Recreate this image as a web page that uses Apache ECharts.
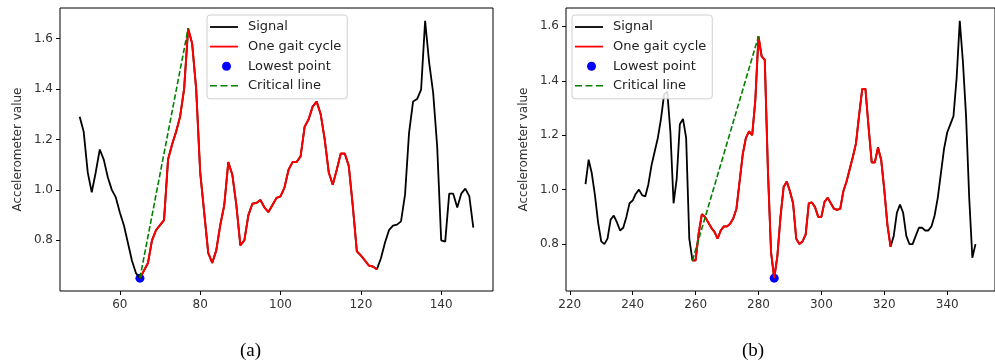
<!DOCTYPE html>
<html><head><meta charset="utf-8">
<script src="https://cdn.jsdelivr.net/npm/echarts@6/dist/echarts.min.js"></script>
<style>html,body{margin:0;padding:0;background:#fff}#c{width:995px;height:362px}</style>
</head><body><div id="c"></div>
<script>
// ---------- data (a) ----------
const leftStart = 50;
const leftSignal = [
  1.29, 1.23, 1.07, 0.99, 1.07, 1.16, 1.12, 1.05, 1.00, 0.97,   // 50-59
  0.91, 0.86, 0.79, 0.72, 0.67, 0.65, 0.68, 0.71, 0.80, 0.84,   // 60-69
  0.86, 0.88, 1.12, 1.18, 1.23, 1.29, 1.40, 1.64, 1.58, 1.40,   // 70-79
  1.07, 0.91, 0.75, 0.71, 0.76, 0.86, 0.94, 1.11, 1.06, 0.94,   // 80-89
  0.78, 0.80, 0.90, 0.945, 0.948, 0.96, 0.93, 0.912, 0.94, 0.968, // 90-99
  0.974, 1.01, 1.08, 1.11, 1.11, 1.133, 1.25, 1.28, 1.33, 1.35, // 100-109
  1.30, 1.20, 1.07, 1.02, 1.08, 1.144, 1.144, 1.094, 0.935, 0.756, // 110-119
  0.74, 0.72, 0.70, 0.696, 0.685, 0.729, 0.79, 0.84, 0.858, 0.862, // 120-129
  0.875, 0.981, 1.226, 1.35, 1.36, 1.397, 1.67, 1.505, 1.385, 1.173, // 130-139
  0.80, 0.795, 0.985, 0.985, 0.93, 0.985, 1.005, 0.975, 0.85      // 140-148
];
const leftCycle = [65, 124];      // x range of one gait cycle
const leftLowestX = 65;           // lowest point
const leftCriticalX = [65, 77];   // critical line endpoints

// ---------- data (b) ----------
const rightStart = 225;
const rightSignal = [
  1.02, 1.11, 1.06, 0.98, 0.88,                               // 225-229
  0.81, 0.80, 0.82, 0.89, 0.905, 0.88, 0.85, 0.86, 0.90, 0.95,  // 230-239
  0.96, 0.985, 1.00, 0.98, 0.975, 1.02, 1.09, 1.14, 1.19, 1.26, // 240-249
  1.35, 1.36, 1.21, 0.95, 1.04, 1.24, 1.26, 1.19, 0.82, 0.74,   // 250-259
  0.74, 0.84, 0.91, 0.90, 0.88, 0.86, 0.845, 0.82, 0.85, 0.865, // 260-269
  0.865, 0.875, 0.895, 0.93, 1.03, 1.13, 1.19, 1.214, 1.20, 1.33, // 270-279
  1.563, 1.49, 1.477, 1.07, 0.77, 0.675, 0.755, 0.90, 1.01, 1.03, // 280-289
  0.994, 0.95, 0.82, 0.80, 0.81, 0.835, 0.95, 0.953, 0.935, 0.90, // 290-299
  0.90, 0.955, 0.97, 0.95, 0.93, 0.926, 0.93, 0.995, 1.03, 1.075, // 300-309
  1.12, 1.17, 1.275, 1.37, 1.37, 1.23, 1.10, 1.10, 1.155, 1.11, // 310-319
  1.00, 0.87, 0.79, 0.83, 0.915, 0.945, 0.915, 0.83, 0.80, 0.80, // 320-329
  0.83, 0.86, 0.86, 0.85, 0.85, 0.865, 0.905, 0.97, 1.06, 1.15, // 330-339
  1.21, 1.24, 1.27, 1.41, 1.62, 1.47, 1.27, 0.97, 0.75, 0.80    // 340-349
];
const rightCycle = [259, 322];
const rightLowestX = 285;
const rightCriticalX = [259, 280];

// ---------- ticks / labels ----------
const xTicksLeft = [60, 80, 100, 120, 140];
const xTicksRight = [220, 240, 260, 280, 300, 320, 340];
const yTicks = [0.8, 1.0, 1.2, 1.4, 1.6];
const legendNames = ['Signal', 'One gait cycle', 'Lowest point', 'Critical line'];
const yName = 'Accelerometer value';
const captions = ['(a)', '(b)'];

// ---------- build ----------
function pairs(start, vals, from, to) {
  const out = [];
  vals.forEach((v, i) => { const x = start + i; if (x >= from && x <= to) out.push([x, v]); });
  return out;
}
function at(start, vals, x) { return [x, vals[x - start]]; }
function margins(arr) {
  const lo = Math.min(...arr), hi = Math.max(...arr), m = (hi - lo) * 0.05;
  return [lo - m, hi + m];
}

const FONT = 'DejaVu Sans';
const ICON_LINE = 'path://M0,0M28,9M0,3.6h28v1.8h-28z';
const ICON_DASH = 'path://M0,0M28,9M0,3.7h7v1.6h-7zM10.5,3.7h7v1.6h-7zM21,3.7h7v1.6h-7z';
const ICON_DOT = 'path://M0,0M28,9M12,4.5a4.5,4.5 0 1,0 9,0a4.5,4.5 0 1,0 -9,0z';
const legendIcons = [ICON_LINE, ICON_LINE, ICON_DOT, ICON_DASH];

const panels = [
  { start: leftStart, vals: leftSignal, cycle: leftCycle, low: leftLowestX, crit: leftCriticalX,
    xt: xTicksLeft, left: 60, legLeft: 207 },
  { start: rightStart, vals: rightSignal, cycle: rightCycle, low: rightLowestX, crit: rightCriticalX,
    xt: xTicksRight, left: 566, legLeft: 572 }
];

const grid = [], xAxis = [], yAxis = [], series = [], legend = [];
panels.forEach((p, k) => {
  const n = p.vals.length;
  const xr = margins([p.start, p.start + n - 1]);
  const yr = margins(p.vals);
  grid.push({ left: p.left, top: 8, width: 433, height: 283, show: true,
    borderColor: '#000', borderWidth: 1, backgroundColor: 'transparent' });
  xAxis.push({ type: 'value', gridIndex: k, min: xr[0], max: xr[1],
    axisLine: { show: false }, splitLine: { show: false },
    axisTick: { show: true, length: 4, customValues: p.xt, lineStyle: { color: '#000' } },
    axisLabel: { customValues: p.xt, margin: 8, color: '#333', fontSize: 12, fontFamily: FONT } });
  yAxis.push({ type: 'value', gridIndex: k, min: yr[0], max: yr[1],
    name: yName, nameLocation: 'middle', nameGap: 36,
    nameTextStyle: { fontSize: 12, fontFamily: FONT, color: '#333' },
    axisLine: { show: false }, splitLine: { show: false },
    axisTick: { show: true, length: 4, customValues: yTicks, lineStyle: { color: '#000' } },
    axisLabel: { customValues: yTicks, margin: 7, color: '#333', fontSize: 12, fontFamily: FONT,
      formatter: v => v.toFixed(1) } });
  series.push({ name: legendNames[0], type: 'line', xAxisIndex: k, yAxisIndex: k,
    data: pairs(p.start, p.vals, -Infinity, Infinity), symbol: 'none',
    lineStyle: { color: '#000', width: 1.8 }, itemStyle: { color: '#000' }, animation: false });
  series.push({ name: legendNames[1], type: 'line', xAxisIndex: k, yAxisIndex: k,
    data: pairs(p.start, p.vals, p.cycle[0], p.cycle[1]), symbol: 'none',
    lineStyle: { color: '#ff0000', width: 2 }, itemStyle: { color: '#ff0000' }, animation: false });
  series.push({ name: legendNames[2], type: 'scatter', xAxisIndex: k, yAxisIndex: k,
    data: [at(p.start, p.vals, p.low)], symbol: 'circle', symbolSize: 9,
    itemStyle: { color: '#0000ff', opacity: 1 }, animation: false });
  series.push({ name: legendNames[3], type: 'line', xAxisIndex: k, yAxisIndex: k,
    data: p.crit.map(x => at(p.start, p.vals, x)), symbol: 'none',
    lineStyle: { color: '#008000', width: 1.6, type: [5.5, 2.4] }, itemStyle: { color: '#008000' }, animation: false });
  legend.push({ orient: 'vertical', left: p.legLeft, top: 15,
    data: legendNames.map((nm, i) => ({ name: nm, icon: legendIcons[i] })),
    itemWidth: 28, itemHeight: 9, itemGap: 6.6, padding: [5.5, 6, 6.5, 3],
    borderColor: '#d0d0d0', borderWidth: 1, borderRadius: 3, backgroundColor: 'rgba(255,255,255,0.85)',
    selectedMode: false,
    textStyle: { fontSize: 13, fontFamily: FONT, color: '#222', padding: [0, 0, 0, 5] } });
});

const chart = echarts.init(document.getElementById('c'), null, { renderer: 'canvas' });
chart.setOption({
  backgroundColor: '#fff',
  animation: false,
  grid, xAxis, yAxis, series, legend,
  graphic: [
    { type: 'text', left: 240, top: 342, style: { text: captions[0], font: '19px "Liberation Serif"', fill: '#000' } },
    { type: 'text', left: 742, top: 342, style: { text: captions[1], font: '19px "Liberation Serif"', fill: '#000' } }
  ]
});
</script>
</body></html>
